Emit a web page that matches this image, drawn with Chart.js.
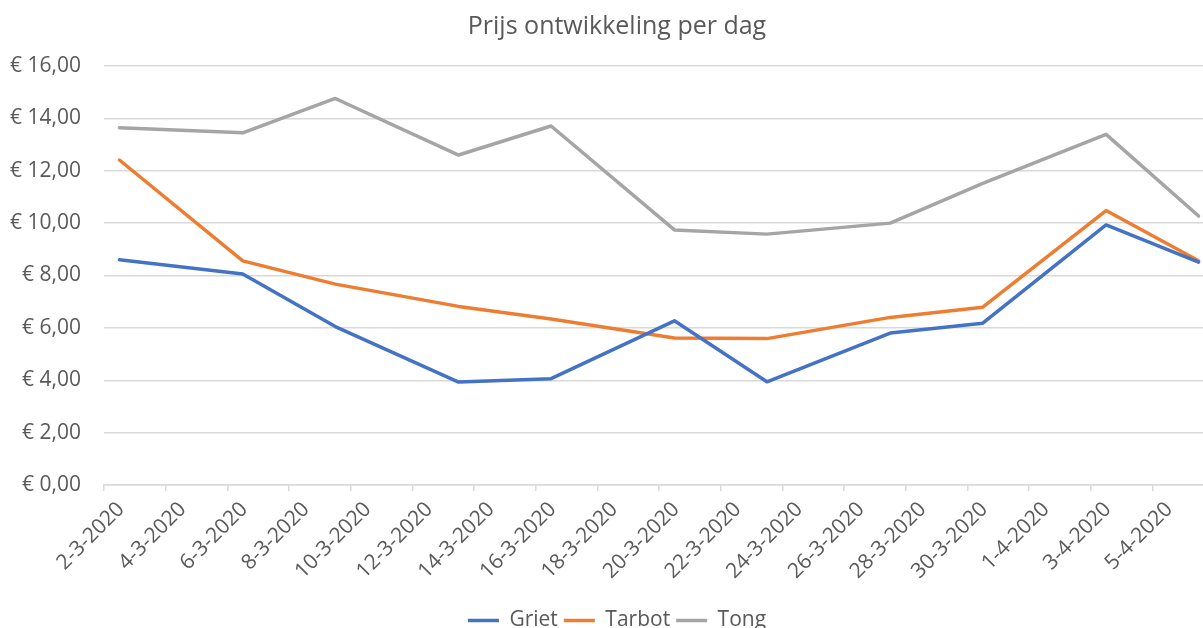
<!DOCTYPE html>
<html>
<head>
<meta charset="utf-8">
<script src="https://cdn.jsdelivr.net/npm/chart.js@4/dist/chart.umd.min.js"></script>
<style>
  html, body { margin: 0; padding: 0; overflow: hidden; background: #fff; }
</style>
</head>
<body>
<canvas id="myChart" width="1234" height="643"></canvas>
<script>
// veilingdagen (d-m-jjjj)
const dates = ['2-3-2020', '6-3-2020', '9-3-2020', '13-3-2020', '16-3-2020', '20-3-2020',
  '23-3-2020', '27-3-2020', '30-3-2020', '3-4-2020', '6-4-2020'];
// prijs per soort (euro)
const griet = [8.60, 8.06, 6.05, 3.93, 4.06, 6.27, 3.94, 5.80, 6.18, 9.93, 8.51];
const tarbot = [12.41, 8.56, 7.67, 6.82, 6.34, 5.61, 5.59, 6.40, 6.79, 10.48, 8.56];
const tong = [13.64, 13.45, 14.76, 12.60, 13.71, 9.74, 9.58, 10.00, 11.52, 13.39, 10.27];
// as-instellingen
const startDate = '2-3-2020';
const dayStep = 2;
const yMax = 16;
const yStep = 2;

const textColor = '#595959';
const gridColor = '#d9d9d9';
Chart.defaults.font.family = "'Open Sans', sans-serif";

// datum -> dagnummer sinds startdatum
function toDay(str) {
  const [d, m, y] = str.split('-').map(Number);
  const [d0, m0, y0] = startDate.split('-').map(Number);
  return (Date.UTC(y, m - 1, d) - Date.UTC(y0, m0 - 1, d0)) / 86400000;
}
function toLabel(day) {
  const [d0, m0, y0] = startDate.split('-').map(Number);
  const dt = new Date(Date.UTC(y0, m0 - 1, d0 + Math.round(day)));
  return dt.getUTCDate() + '-' + (dt.getUTCMonth() + 1) + '-' + dt.getUTCFullYear();
}
const days = dates.map(toDay);
const lastDay = days[days.length - 1];
const toPoints = (arr) => arr.map((v, i) => ({ x: days[i], y: v }));

// titel en legenda centreren over de hele breedte (niet alleen binnen de padding)
const fullWidthBoxes = {
  id: 'fullWidthBoxes',
  afterLayout: (chart) => {
    [chart.titleBlock, chart.legend].forEach((box) => {
      if (box) { box.left = 0; box.right = chart.width; }
    });
  },
};

const ctx = document.getElementById('myChart').getContext('2d');
new Chart(ctx, {
  type: 'line',
  data: {
    datasets: [
      { label: 'Griet', data: toPoints(griet), borderColor: '#4472c4', backgroundColor: '#4472c4' },
      { label: 'Tarbot', data: toPoints(tarbot), borderColor: '#ed7d31', backgroundColor: '#ed7d31' },
      { label: 'Tong', data: toPoints(tong), borderColor: '#a5a5a5', backgroundColor: '#a5a5a5' },
    ],
  },
  options: {
    responsive: false,
    animation: false,
    layout: { padding: { top: 0, left: 0, right: 20, bottom: 2 } },
    elements: {
      line: { borderWidth: 3.5, tension: 0, borderCapStyle: 'round', borderJoinStyle: 'round' },
      point: { radius: 0, borderWidth: 3.5 }, // borderWidth geldt ook voor de legenda-lijn
    },
    plugins: {
      title: {
        display: true,
        text: 'Prijs ontwikkeling per dag',
        color: textColor,
        font: { size: 25, weight: 'normal' },
        padding: { top: 12, bottom: 24 },
      },
      legend: {
        position: 'bottom',
        labels: {
          usePointStyle: true,
          pointStyle: 'line',
          pointStyleWidth: 31,
          color: textColor,
          font: { size: 21 },
          padding: 6,
        },
      },
      tooltip: { enabled: false },
    },
    scales: {
      x: {
        type: 'linear',
        min: -0.5,
        max: lastDay + 0.5,
        afterBuildTicks: (scale) => {
          // tickmarks op de dag-grenzen, label in het midden van de dag
          const ticks = [];
          for (let v = -0.5; v < lastDay; v += dayStep) ticks.push({ value: v });
          scale.ticks = ticks;
        },
        afterFit: (scale) => { scale.height = 119; },
        ticks: {
          autoSkip: false,
          minRotation: 45,
          maxRotation: 45,
          labelOffset: 17,
          padding: 6,
          color: textColor,
          font: { size: 21 },
          callback: (value) => toLabel(value + 0.5),
        },
        grid: { drawOnChartArea: false, drawTicks: true, tickLength: 6, color: gridColor, lineWidth: 1.5 },
        border: { color: gridColor, width: 1.5 },
      },
      y: {
        min: 0,
        max: yMax,
        afterFit: (scale) => { scale.width = 104; },
        ticks: {
          stepSize: yStep,
          padding: 23,
          color: textColor,
          font: { size: 21 },
          callback: (value) => '€ ' + value.toFixed(2).replace('.', ','),
        },
        grid: { drawTicks: false, color: gridColor, lineWidth: 1.5 },
        border: { display: false },
      },
    },
  },
  plugins: [fullWidthBoxes],
});
</script>
</body>
</html>
